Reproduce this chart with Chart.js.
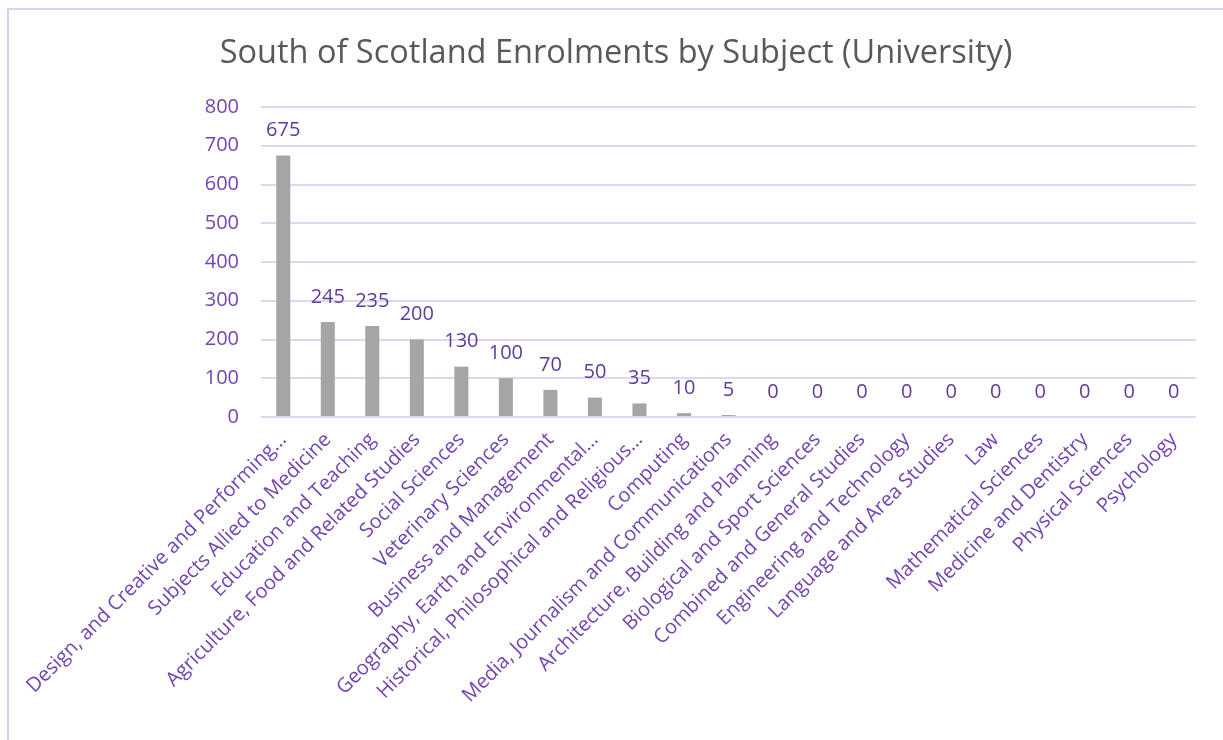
<!DOCTYPE html>
<html>
<head>
<meta charset="utf-8">
<script src="https://cdn.jsdelivr.net/npm/chart.js@4/dist/chart.umd.min.js"></script>
<style>
  html, body { margin: 0; padding: 0; background: #fff; overflow: hidden; }
  #wrap { position: relative; width: 1223px; height: 740px; }
  #frame {
    position: absolute; left: 7px; top: 8px; width: 1300px; height: 800px;
    border-left: 2px solid #ddd0ef; border-top: 2px solid #ddd0ef;
    box-sizing: border-box; pointer-events: none;
  }
  canvas { position: absolute; left: 0; top: 0; }
</style>
</head>
<body>
<div id="wrap">
  <canvas id="subjectChart" width="1223" height="740"></canvas>
  <div id="frame"></div>
</div>
<script>
const subjects = [
  "Design, and Creative and Performing…",
  "Subjects Allied to Medicine",
  "Education and Teaching",
  "Agriculture, Food and Related Studies",
  "Social Sciences",
  "Veterinary Sciences",
  "Business and Management",
  "Geography, Earth and Environmental…",
  "Historical, Philosophical and Religious…",
  "Computing",
  "Media, Journalism and Communications",
  "Architecture, Building and Planning",
  "Biological and Sport Sciences",
  "Combined and General Studies",
  "Engineering and Technology",
  "Language and Area Studies",
  "Law",
  "Mathematical Sciences",
  "Medicine and Dentistry",
  "Physical Sciences",
  "Psychology"
];
const enrolments = [675, 245, 235, 200, 130, 100, 70, 50, 35, 10, 5, 0, 0, 0, 0, 0, 0, 0, 0, 0, 0];
const yTicks = [0, 100, 200, 300, 400, 500, 600, 700, 800];

const tickColor = "#7345b3";
const labelColor = "#5e3b9d";
const gridColor = "#e2d5f1";
const font = "'Open Sans', sans-serif";

// value labels above each bar
const barValueLabels = {
  id: "barValueLabels",
  afterDatasetsDraw(chart) {
    const ctx = chart.ctx;
    const meta = chart.getDatasetMeta(0);
    ctx.save();
    ctx.fillStyle = labelColor;
    ctx.font = "20px " + font;
    ctx.textAlign = "center";
    ctx.textBaseline = "middle";
    meta.data.forEach((bar, i) => {
      ctx.fillText(String(enrolments[i]), bar.x, bar.y - 25);
    });
    ctx.restore();
  }
};

new Chart(document.getElementById("subjectChart").getContext("2d"), {
  type: "bar",
  data: {
    labels: subjects,
    datasets: [{
      data: enrolments,
      backgroundColor: "#a5a5a5",
      borderWidth: 0,
      categoryPercentage: 1,
      barPercentage: 0.315
    }]
  },
  options: {
    responsive: false,
    animation: false,
    layout: { padding: { left: 36, right: 27, top: 0, bottom: 0 } },
    plugins: {
      legend: { display: false },
      tooltip: { enabled: false },
      title: {
        display: true,
        text: "South of Scotland Enrolments by Subject (University)",
        color: "#595959",
        font: { family: font, size: 32.5, weight: "normal" },
        padding: { top: 34, bottom: 34 }
      }
    },
    scales: {
      y: {
        min: 0,
        max: 800,
        afterBuildTicks: (scale) => { scale.ticks = yTicks.map((v) => ({ value: v })); },
        afterFit: (scale) => { scale.width = 225; },
        border: { display: false },
        grid: { color: gridColor, lineWidth: 2, drawTicks: false },
        ticks: {
          color: tickColor,
          padding: 22,
          font: { family: font, size: 20 }
        }
      },
      x: {
        afterFit: (scale) => { scale.height = 323; },
        border: { display: false },
        grid: { display: false, drawTicks: false },
        ticks: {
          color: tickColor,
          autoSkip: false,
          maxRotation: 45,
          minRotation: 45,
          padding: 11,
          font: { family: font, size: 20 }
        }
      }
    }
  },
  plugins: [barValueLabels]
});
</script>
</body>
</html>
